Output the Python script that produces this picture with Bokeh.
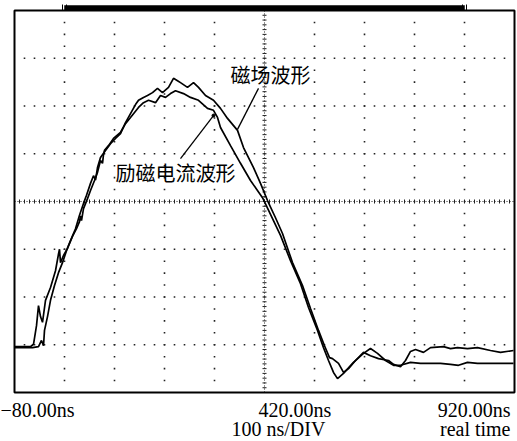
import numpy as np
from bokeh.plotting import figure
from bokeh.models import Range1d, Label
from bokeh.embed import file_html
from bokeh.resources import INLINE

# 励磁电流波形 (excitation current): time in ns, amplitude in divisions
current_t = [-80, -48, -42, -36, -32, -28, -24, -18, -8, 2, 8, 10, 12, 18, 26, 36, 44, 50, 52, 54,
             58, 66, 72, 80, 86, 92, 96, 98, 100, 108, 118, 132, 142, 152, 168, 178, 188, 202, 212, 222, 232, 242,
             258, 272, 288, 306, 318, 326, 332, 352, 372, 392, 416, 432, 452, 472, 492, 508, 526, 538, 548, 558,
             566, 578, 598, 618, 632, 646, 662, 678, 692, 712, 732, 752, 772, 792, 808, 826, 846, 866, 886, 918]
current_v = [-3.04, -3.04, -2.99, -2.60, -2.18, -2.41, -2.53, -2.07, -1.80, -1.45,
             -1.10, -1.00, -1.28, -1.13, -0.98, -0.73, -0.57, -0.42, -0.30, -0.40,
             -0.15, 0.06, 0.23, 0.44, 0.61, 0.86, 0.80, 0.98, 1.07, 1.17, 1.32, 1.45,
             1.63, 1.76, 1.97, 2.07, 2.12, 2.07, 2.22, 2.18, 2.26, 2.32,
             2.26, 2.18, 2.12, 1.95, 1.91, 1.76, 1.55, 1.17, 0.80, 0.44,
             0.08, -0.27, -0.71, -1.24, -1.72, -2.22, -2.70, -3.06, -3.33, -3.58,
             -3.71, -3.60, -3.37, -3.18, -3.08, -3.18, -3.33, -3.43, -3.43, -3.37,
             -3.39, -3.39, -3.39, -3.41, -3.43, -3.37, -3.39, -3.39, -3.39, -3.39]

# 磁场波形 (magnetic field): time in ns, amplitude in divisions
field_t = [-80, -44, -32, -26, -22, -20, -14, -8, 0, 8, 16, 24, 32, 42, 50, 58, 64, 72, 78, 82, 86,
           92, 102, 112, 122, 132, 142, 152, 162, 168, 178, 186, 196, 206, 216, 228, 238, 246, 252, 266, 278,
           288, 302, 318, 332, 346, 366, 378, 398, 412, 426, 442, 456, 476, 496, 512, 528, 540, 550, 556, 568,
           578, 588, 602, 618, 632, 648, 668, 678, 692, 702, 712, 722, 738, 752, 778, 792, 806, 826, 846, 872,
           892, 918]
field_v = [-3.06, -3.06, -3.04, -2.91, -3.02, -2.70, -2.41, -2.07, -1.76, -1.49,
           -1.28, -1.03, -0.82, -0.57, -0.29, -0.04, 0.13, 0.38, 0.54, 0.45, 0.71,
           0.92, 1.07, 1.21, 1.32, 1.42, 1.65, 1.84, 2.03, 2.12, 2.18,
           2.22, 2.28, 2.37, 2.28, 2.39, 2.58, 2.53, 2.49, 2.39, 2.49,
           2.39, 2.22, 2.12, 1.95, 1.74, 1.49, 1.13, 0.71, 0.38, 0.02,
           -0.34, -0.67, -1.28, -1.76, -2.24, -2.70, -3.02, -3.27, -3.29, -3.39,
           -3.58, -3.50, -3.33, -3.16, -3.23, -3.29, -3.33, -3.41, -3.46, -3.33,
           -3.14, -3.10, -3.16, -3.06, -3.04, -3.08, -3.06, -3.08, -3.06, -3.12,
           -3.16, -3.12]

tick_values = [-80, 420, 920]
tick_labels = ["\u221280.00ns", "420.00ns", "920.00ns"]
scale_label = "100 ns/DIV"
mode_label = "real time"
field_name = "磁场波形"
current_name = "励磁电流波形"

T0, T1 = -80, 920      # screen time span
V0, V1 = -4, 4         # vertical divisions
DIV_T = 100

W, H = 517, 441
PX_T = 2.0             # ns per pixel
PX_V = 8 / 382.0       # div per pixel

p = figure(width=W, height=H, output_backend="svg", toolbar_location=None,
           x_axis_location=None, y_axis_location=None,
           x_range=Range1d(T0 - 14 * PX_T, T1 + 3 * PX_T),
           y_range=Range1d(V0 - 49 * PX_V, V1 + 10 * PX_V),
           min_border=0, min_border_left=0, min_border_right=0,
           min_border_top=0, min_border_bottom=0)
p.outline_line_color = None
p.xgrid.visible = False
p.ygrid.visible = False
p.background_fill_color = "white"
p.border_fill_color = "white"

dot = "#222222"
# vertical dotted columns
cols = [T0 + DIV_T * k for k in range(1, 10) if k != 5]
cv = np.arange(V0 + 0.25, V1, 0.25)
cx, cy = np.meshgrid(cols, cv)
p.scatter(cx.ravel(), cy.ravel(), marker="square", size=1.6, color=dot, line_width=0)
# horizontal dotted rows
rows = [-3, -2, -1, 1, 2, 3]
rt = np.arange(T0 + 20, T1, 20)
rx, ry = np.meshgrid(rt, rows)
p.scatter(rx.ravel(), ry.ravel(), marker="square", size=1.6, color=dot, line_width=0)

# center crosshair
tc = (T0 + T1) / 2
p.line([tc, tc], [V0, V1], line_color=dot, line_width=1, line_dash="1 2")
p.line([T0, T1], [0, 0], line_color=dot, line_width=1, line_dash="1 2")
tv = np.arange(V0 + 0.1, V1, 0.1)
p.segment(x0=tc - 2 * PX_T, x1=tc + 2 * PX_T, y0=tv, y1=tv, line_color=dot, line_width=1)
th = np.arange(T0 + 10, T1, 10)
p.segment(x0=th, x1=th, y0=-2 * PX_V, y1=2 * PX_V, line_color=dot, line_width=1)

# top record bar with end markers
p.quad(left=T0 + DIV_T, right=T1 - DIV_T, bottom=V1, top=V1 + 5 * PX_V,
       fill_color="black", line_color="black", line_width=0.5)
for e in (T0 + DIV_T, T1 - DIV_T):
    p.segment(x0=[e - 2 * PX_T, e + 2 * PX_T], x1=[e - 2 * PX_T, e + 2 * PX_T],
              y0=[V1, V1], y1=[V1 + 6 * PX_V, V1 + 6 * PX_V], line_color="black", line_width=1)

# frame
p.quad(left=T0, right=T1, bottom=V0, top=V1, fill_color=None,
       line_color="black", line_width=2)

# waveforms
p.line(current_t, current_v, line_color="black", line_width=1.7)
p.line(field_t, field_v, line_color="black", line_width=1.7)

# leader lines
p.line([408, 366], [2.37, 1.51], line_color="black", line_width=1.3)
p.line([252, 318], [0.90, 1.80], line_color="black", line_width=1.3)
p.scatter([318], [1.80], size=3, color="black")

cjk = "Noto Sans CJK SC"
p.add_layout(Label(x=352, y=2.66, text=field_name, text_font=cjk, text_font_size="20px",
                   text_align="left", text_baseline="middle", text_color="black"))
p.add_layout(Label(x=122, y=0.61, text=current_name, text_font=cjk, text_font_size="20px",
                   text_align="left", text_baseline="middle", text_color="black"))

serif = "Liberation Serif"
aligns = ["left", "left", "right"]
offs = [-14, -6, -4]
for v, lab, al, off in zip(tick_values, tick_labels, aligns, offs):
    p.add_layout(Label(x=v, y=V0, text=lab, text_font=serif, text_font_size="20px",
                       text_align=al, text_baseline="alphabetic", x_offset=off, y_offset=-17,
                       text_color="black"))
p.add_layout(Label(x=tc, y=V0, text=scale_label, text_font=serif, text_font_size="20px",
                   text_align="left", text_baseline="alphabetic", x_offset=-33, y_offset=-36,
                   text_color="black"))
p.add_layout(Label(x=T1, y=V0, text=mode_label, text_font=serif, text_font_size="20px",
                   text_align="right", text_baseline="alphabetic", x_offset=-4, y_offset=-36,
                   text_color="black"))

open("out.html", "w").write(file_html(p, INLINE))
